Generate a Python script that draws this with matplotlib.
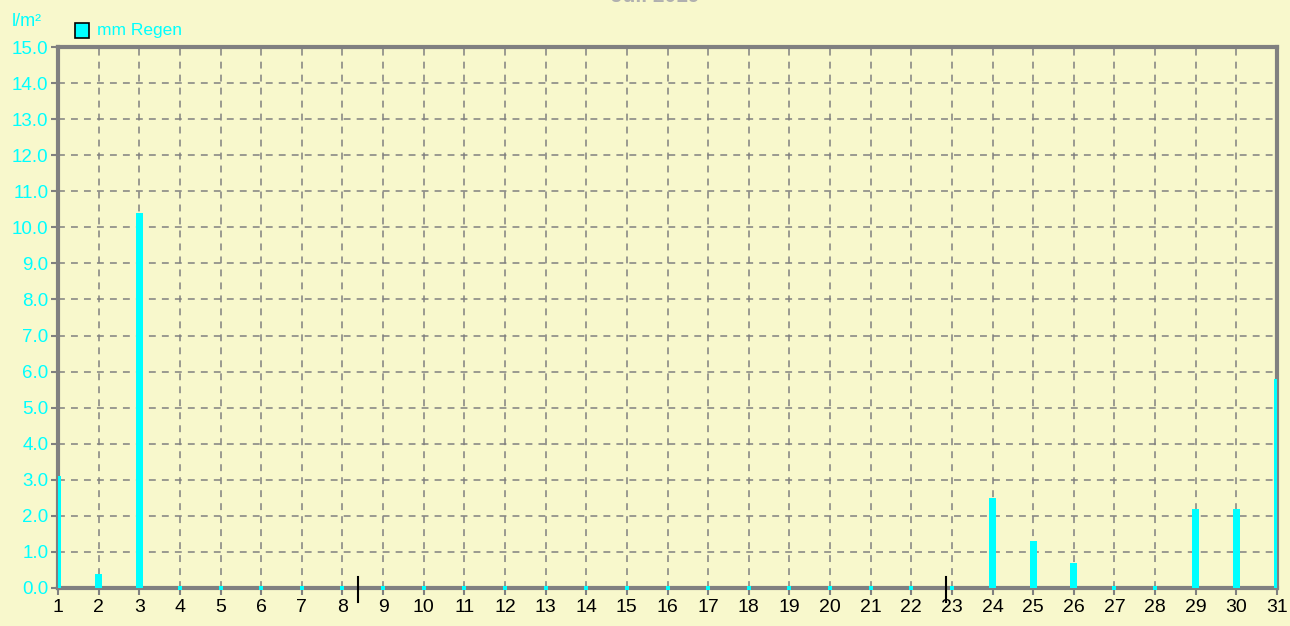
import matplotlib
matplotlib.use("Agg")
import matplotlib.pyplot as plt
from matplotlib.patches import Rectangle

# ---- data ----
days = list(range(1, 32))
rain_mm = [3.1, 0.4, 10.4, 0, 0, 0, 0, 0, 0, 0,
           0, 0, 0, 0, 0, 0, 0, 0, 0, 0,
           0, 0, 0, 2.5, 1.3, 0.7, 0, 0, 2.2, 2.2,
           5.8]
y_ticks = [float(v) for v in range(0, 16)]
y_tick_labels = [f"{v:.1f}" for v in y_ticks]
x_tick_labels = [str(d) for d in days]
cursor_marks = [8.38, 22.86]
title_text = "Juli 2019"
legend_label = "mm Regen"
unit_label = "l/m²"

# ---- style ----
BG = "#f8f8cc"
CYAN = "#00ffff"
GREY = "#808080"
FONT = ["Liberation Sans Narrow", "Liberation Sans", "DejaVu Sans"]
plt.rcParams["font.family"] = FONT

fig = plt.figure(figsize=(12.9, 6.26), dpi=100, facecolor=BG)
ax = fig.add_axes([58 / 1290, 38 / 626, (1277 - 58) / 1290, (588 - 47) / 626])
ax.set_facecolor(BG)

ax.set_xlim(1, 31)
ax.set_ylim(0, 15)

nonzero_x = [d for d, v in zip(days, rain_mm) if v > 0]
nonzero_y = [v for v in rain_mm if v > 0]
zero_x = [d for d, v in zip(days, rain_mm) if v == 0]
zero_y = [v for v in rain_mm if v == 0]

ax.bar(nonzero_x, nonzero_y, width=0.17, color=CYAN, linewidth=0, zorder=3)
ax.plot(zero_x, zero_y, ls="", marker="s", ms=2.8, color=CYAN, zorder=4,
        clip_on=False, markeredgewidth=0)

# grid
ax.set_xticks(days)
ax.set_yticks(y_ticks)
ax.grid(True, color=GREY, linestyle=(0, (4.5, 4)), linewidth=1.1, zorder=1)
ax.set_axisbelow(True)

for s in ax.spines.values():
    s.set_color(GREY)
    s.set_linewidth(3)

ax.set_yticklabels(y_tick_labels, color=CYAN, fontsize=13.5)
ax.set_xticklabels(x_tick_labels, color="black", fontsize=14)
ax.tick_params(axis="both", colors=GREY, length=5, width=1.5)
ax.tick_params(axis="y", labelcolor=CYAN, pad=2)
ax.tick_params(axis="x", labelcolor="black", pad=3)

# cursor marks on x-axis
for cx in cursor_marks:
    ax.plot([cx, cx], [-0.4, 0.3], color="black", lw=1.5,
            clip_on=False, zorder=6)

# unit label and legend
fig.text(12 / 1290, 1 - 21 / 626, unit_label, color=CYAN, fontsize=13,
         ha="left", va="center")
fig.patches.append(Rectangle((75 / 1290, 1 - 38 / 626), 14 / 1290, 15 / 626,
                             transform=fig.transFigure, facecolor=CYAN,
                             edgecolor="black", linewidth=1.2))
fig.text(97 / 1290, 1 - 31 / 626, legend_label, color=CYAN, fontsize=12.5,
         ha="left", va="center")

# title (cut off at top in the reference, only its lowest pixels show)
fig.text(655 / 1290, 1 - 2 / 626, title_text, color="#b0b0b0", fontsize=15,
         fontweight="bold", ha="center", va="baseline")

fig.savefig("out.png", dpi=100, facecolor=BG)
